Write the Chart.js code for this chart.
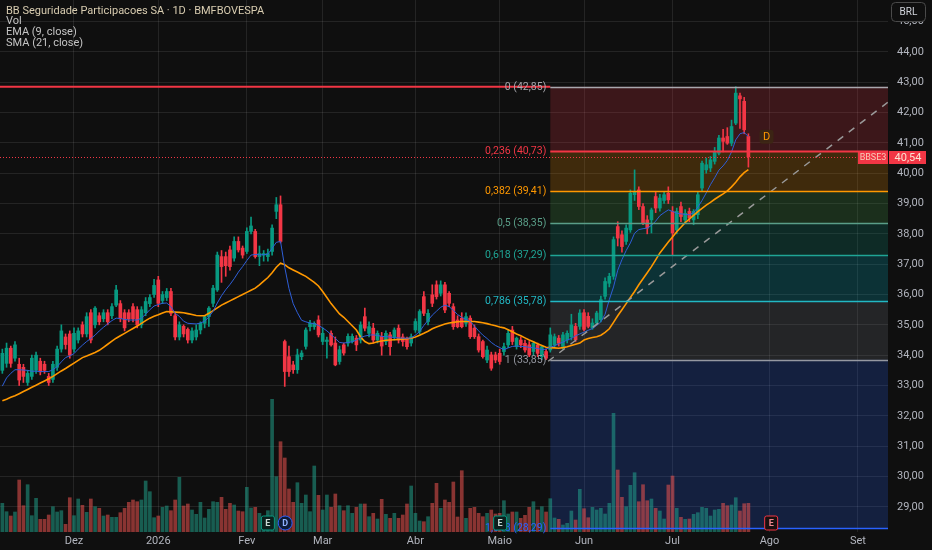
<!DOCTYPE html>
<html>
<head>
<meta charset="utf-8">
<title>BBSE3 - 1D</title>
<script src="https://cdn.jsdelivr.net/npm/chart.js@4.4.1/dist/chart.umd.min.js"></script>
<style>
  html, body { margin: 0; padding: 0; background: #0f0f0f; }
  #wrap { width: 932px; height: 550px; }
</style>
</head>
<body>
<div id="wrap"><canvas id="grafico" width="932" height="550"></canvas></div>
<script>
// pregões diários, índice 0 = meados de novembro/2025
var abertura = [
  33.50, 33.73, 34.23, 33.90, 33.70, 33.60, 33.10, 33.30, 33.50, 33.80,
  33.70, 33.30, 33.20, 33.60, 34.20, 34.60, 34.70, 34.20, 34.50, 35.00,
  34.70, 35.40, 35.00, 35.30, 35.20, 35.40, 35.30, 35.65, 35.70, 35.40,
  35.40, 35.60, 35.50, 35.00, 35.40, 35.70, 36.00, 36.48, 35.80, 35.90,
  36.10, 35.30, 34.60, 34.95, 34.85, 34.50, 34.60, 34.83, 35.05, 35.27,
  35.71, 36.15, 37.25, 37.25, 37.47, 37.20, 37.75, 37.53, 37.42, 38.08,
  38.08, 37.25, 37.30, 37.25, 37.42, 38.74, 38.96, 34.45, 33.95, 33.68,
  33.52, 33.95, 34.29, 34.94, 34.94, 35.16, 34.45, 34.45, 34.72, 34.40,
  33.79, 34.34, 34.40, 34.45, 34.56, 34.50, 35.27, 34.72, 34.89, 34.50,
  34.62, 34.45, 34.67, 34.61, 34.89, 34.60, 34.56, 34.40, 34.83, 34.78,
  35.93, 35.11, 35.99, 36.32, 36.04, 36.32, 36.04, 35.60, 35.16, 35.22,
  35.05, 35.22, 34.89, 34.61, 34.45, 33.84, 34.01, 34.01, 34.06, 34.12,
  34.34, 34.83, 34.28, 34.50, 34.39, 34.34, 34.12, 34.34, 33.95, 34.12,
  34.17, 34.34, 34.56, 34.29, 34.50, 34.61, 34.95, 34.95, 35.40, 35.28,
  34.90, 35.06, 35.17, 35.94, 36.37, 36.60, 38.24, 37.97, 37.75, 38.13,
  39.29, 39.45, 38.90, 38.46, 38.46, 39.23, 38.85, 39.10, 39.34, 38.74,
  38.13, 38.90, 38.46, 38.74, 38.46, 38.63, 39.51, 40.11, 40.17, 40.39,
  40.66, 41.16, 41.21, 40.99, 41.65, 42.55, 42.37, 41.21
];
var maxima = [
  34.20, 34.40, 34.30, 34.45, 33.90, 33.70, 33.50, 34.00, 34.10, 33.90,
  33.80, 33.40, 33.80, 34.30, 35.00, 34.70, 34.80, 34.90, 34.90, 35.10,
  35.40, 35.50, 35.60, 35.40, 35.50, 35.50, 35.70, 36.30, 35.80, 35.50,
  35.50, 35.70, 35.60, 35.60, 35.90, 36.00, 36.50, 36.60, 36.10, 36.20,
  36.20, 35.40, 35.10, 35.00, 34.90, 34.90, 35.00, 35.10, 35.30, 35.60,
  36.30, 37.40, 37.45, 37.40, 37.60, 37.90, 37.90, 37.60, 38.20, 38.55,
  38.15, 37.60, 37.45, 37.50, 38.30, 39.20, 39.25, 34.50, 34.30, 33.80,
  34.20, 34.15, 34.90, 35.15, 35.10, 35.30, 34.90, 34.60, 34.80, 34.60,
  34.30, 34.40, 34.70, 34.70, 34.65, 35.10, 35.55, 35.10, 35.05, 34.80,
  34.75, 34.80, 34.75, 34.90, 35.00, 34.70, 34.60, 34.70, 35.20, 35.50,
  36.10, 35.50, 36.32, 36.45, 36.45, 36.40, 36.10, 35.70, 35.30, 35.40,
  35.40, 35.30, 35.00, 34.70, 34.50, 34.30, 34.10, 34.10, 34.20, 34.40,
  34.85, 34.95, 34.60, 34.60, 34.50, 34.45, 34.45, 34.40, 34.30, 34.20,
  34.90, 34.70, 34.65, 34.75, 34.80, 35.35, 35.05, 35.50, 35.50, 35.40,
  35.20, 35.45, 35.95, 36.55, 36.70, 37.90, 38.40, 38.10, 38.30, 39.45,
  40.11, 39.55, 39.00, 38.60, 38.85, 39.40, 39.30, 39.40, 39.55, 38.90,
  38.85, 39.05, 38.80, 38.85, 38.80, 39.40, 40.40, 40.50, 40.55, 40.85,
  41.25, 41.45, 41.50, 41.75, 42.85, 42.64, 42.50, 41.30
];
var minima = [
  33.40, 33.60, 33.60, 33.80, 33.00, 33.10, 33.00, 33.20, 33.40, 33.35,
  33.40, 33.00, 33.10, 33.50, 34.10, 34.20, 33.90, 34.10, 34.40, 34.60,
  34.60, 34.40, 34.90, 35.00, 35.10, 35.00, 35.20, 35.60, 35.10, 34.80,
  35.10, 35.10, 34.90, 34.90, 35.30, 35.60, 35.90, 35.60, 35.70, 35.80,
  35.30, 34.50, 34.50, 34.60, 34.40, 34.40, 34.50, 34.70, 34.90, 34.95,
  35.60, 36.10, 36.40, 36.60, 36.80, 37.10, 37.40, 37.20, 37.35, 38.00,
  37.20, 36.95, 37.10, 37.10, 37.30, 38.50, 37.70, 32.97, 33.30, 33.40,
  33.40, 33.85, 34.20, 34.80, 34.85, 34.60, 34.35, 33.90, 34.30, 33.65,
  33.70, 34.00, 34.30, 34.40, 34.15, 34.40, 34.80, 34.60, 34.40, 34.40,
  34.00, 34.35, 34.00, 34.50, 34.40, 34.30, 34.20, 34.30, 34.75, 34.70,
  35.30, 35.00, 35.60, 35.85, 35.95, 35.40, 35.60, 34.85, 34.90, 34.90,
  34.95, 34.55, 34.55, 34.10, 33.90, 33.75, 33.50, 33.75, 33.70, 34.00,
  34.25, 34.35, 34.20, 34.25, 34.10, 33.95, 34.00, 33.95, 33.85, 33.85,
  34.10, 34.25, 34.30, 34.20, 34.40, 34.50, 34.45, 34.85, 34.80, 34.90,
  34.85, 35.00, 35.10, 35.85, 36.25, 36.50, 37.60, 37.40, 37.65, 38.05,
  39.10, 38.80, 38.30, 38.00, 38.03, 38.70, 38.75, 39.00, 39.00, 37.31,
  38.00, 38.40, 38.35, 38.40, 38.30, 38.50, 39.40, 40.00, 40.05, 40.30,
  40.60, 40.70, 40.95, 40.90, 41.60, 41.48, 41.30, 40.20
];
var fechamento = [
  34.06, 34.23, 33.73, 34.34, 33.18, 33.30, 33.40, 33.90, 34.00, 33.45,
  33.50, 33.10, 33.70, 34.20, 34.80, 34.35, 34.00, 34.72, 34.80, 34.70,
  35.27, 34.50, 35.55, 35.10, 35.40, 35.10, 35.60, 36.15, 35.20, 34.90,
  35.20, 35.20, 35.00, 35.50, 35.77, 35.90, 36.30, 35.71, 36.00, 36.10,
  35.38, 34.60, 35.00, 34.70, 34.50, 34.80, 34.83, 35.05, 35.27, 35.55,
  36.21, 37.30, 36.92, 36.95, 36.92, 37.75, 37.47, 37.30, 38.08, 38.26,
  37.25, 37.35, 37.35, 37.35, 38.19, 38.96, 37.75, 33.46, 33.46, 33.52,
  34.01, 34.07, 34.83, 35.05, 35.05, 34.67, 34.72, 34.50, 34.34, 33.68,
  34.18, 34.07, 34.62, 34.62, 34.34, 35.00, 34.89, 34.94, 34.50, 34.72,
  34.30, 34.72, 34.28, 34.83, 34.50, 34.45, 34.28, 34.61, 35.11, 35.44,
  35.38, 35.38, 35.71, 35.93, 36.32, 35.49, 35.71, 34.94, 34.94, 34.94,
  35.27, 34.61, 34.61, 34.17, 33.95, 34.17, 33.57, 33.84, 33.79, 34.28,
  34.72, 34.45, 34.56, 34.34, 34.17, 34.01, 34.39, 34.06, 34.28, 33.90,
  34.67, 34.61, 34.39, 34.67, 34.72, 35.00, 34.51, 35.39, 34.85, 34.95,
  35.06, 35.39, 35.83, 36.43, 36.60, 37.81, 37.86, 37.58, 38.19, 39.34,
  39.40, 38.90, 38.35, 38.19, 38.79, 38.85, 39.18, 39.29, 39.12, 38.03,
  38.74, 38.57, 38.68, 38.52, 38.74, 39.29, 40.33, 40.28, 40.44, 40.72,
  41.16, 41.05, 40.99, 41.54, 42.64, 42.45, 41.43, 40.54
];
// volume em milhões de ações
var volume = [
  2.87, 2.03, 1.60, 2.00, 5.20, 2.63, 4.73, 1.63, 3.37, 1.27,
  1.27, 1.70, 2.53, 2.00, 2.13, 0.77, 3.43, 1.63, 3.30, 2.67,
  1.97, 3.30, 2.53, 2.37, 1.60, 1.70, 1.47, 1.47, 1.93, 2.37,
  2.97, 3.20, 3.03, 3.20, 5.10, 4.03, 1.43, 1.60, 2.47, 2.60,
  2.13, 3.20, 5.47, 2.60, 2.80, 2.20, 1.77, 2.97, 1.40, 2.27,
  3.03, 2.97, 3.47, 2.27, 2.87, 2.70, 2.10, 2.03, 4.47, 2.40,
  2.47, 1.87, 1.37, 2.13, 13.27, 5.53, 9.03, 7.40, 4.30, 2.97,
  4.93, 2.87, 3.70, 2.03, 6.60, 3.67, 2.20, 3.70, 2.47, 3.80,
  2.63, 2.13, 2.63, 1.87, 2.47, 2.80, 2.80, 1.53, 1.87, 1.30,
  3.27, 1.77, 1.37, 1.87, 1.37, 1.70, 2.80, 4.60, 1.87, 1.10,
  1.03, 1.53, 2.87, 4.87, 2.37, 3.20, 2.97, 5.00, 1.50, 6.13,
  1.37, 2.37, 2.47, 1.87, 1.53, 1.87, 2.20, 1.80, 1.87, 3.13,
  1.80, 2.00, 2.00, 1.37, 1.67, 2.47, 3.03, 2.20, 2.53, 2.00,
  3.33, 1.40, 1.27, 0.70, 0.87, 2.10, 1.20, 4.27, 2.33, 1.43,
  2.47, 2.20, 2.37, 1.80, 2.87, 11.87, 6.20, 3.47, 2.53, 4.67,
  5.93, 3.03, 4.73, 3.13, 3.30, 2.37, 2.10, 1.30, 4.70, 5.60,
  2.37, 1.47, 1.27, 1.30, 1.77, 1.93, 2.47, 2.37, 1.60, 2.20,
  2.27, 2.87, 2.63, 2.70, 3.43, 2.10, 2.83, 2.87
];
var ema9 = [
  32.98, 33.25, 33.40, 33.52, 33.52, 33.51, 33.50, 33.47, 33.47, 33.46,
  33.46, 33.46, 33.52, 33.62, 33.78, 33.92, 33.98, 34.05, 34.20, 34.33,
  34.45, 34.55, 34.66, 34.80, 34.92, 35.03, 35.14, 35.22, 35.21, 35.18,
  35.16, 35.16, 35.16, 35.22, 35.35, 35.50, 35.62, 35.67, 35.71, 35.72,
  35.60, 35.38, 35.28, 35.12, 35.05, 35.04, 35.03, 35.06, 35.12, 35.26,
  35.45, 35.72, 35.96, 36.16, 36.33, 36.52, 36.74, 36.92, 37.12, 37.30,
  37.32, 37.31, 37.31, 37.33, 37.52, 37.72, 37.75, 36.90, 36.20, 35.70,
  35.40, 35.15, 35.10, 35.06, 35.04, 34.98, 34.90, 34.80, 34.68, 34.55,
  34.42, 34.40, 34.42, 34.44, 34.50, 34.58, 34.63, 34.66, 34.67, 34.65,
  34.62, 34.61, 34.60, 34.58, 34.57, 34.56, 34.56, 34.57, 34.66, 34.78,
  34.98, 35.15, 35.32, 35.45, 35.58, 35.65, 35.60, 35.48, 35.34, 35.25,
  35.18, 35.12, 34.96, 34.80, 34.66, 34.55, 34.42, 34.32, 34.25, 34.18,
  34.24, 34.29, 34.30, 34.29, 34.28, 34.26, 34.24, 34.22, 34.18, 34.20,
  34.26, 34.31, 34.38, 34.43, 34.50, 34.55, 34.64, 34.70, 34.76, 34.82,
  34.88, 34.98, 35.10, 35.35, 35.83, 36.25, 36.80, 37.15, 37.45, 37.70,
  38.02, 38.14, 38.17, 38.19, 38.28, 38.42, 38.60, 38.70, 38.79, 38.74,
  38.68, 38.66, 38.64, 38.63, 38.70, 38.88, 39.10, 39.35, 39.62, 39.85,
  40.10, 40.24, 40.42, 40.70, 41.10, 41.30, 41.34, 41.21
];
var sma21 = [
  32.50, 32.55, 32.61, 32.66, 32.73, 32.80, 32.87, 32.94, 33.01, 33.08,
  33.15, 33.22, 33.30, 33.39, 33.48, 33.56, 33.65, 33.74, 33.83, 33.92,
  33.97, 34.03, 34.09, 34.16, 34.26, 34.36, 34.46, 34.56, 34.64, 34.72,
  34.80, 34.88, 34.96, 35.05, 35.14, 35.22, 35.28, 35.33, 35.39, 35.44,
  35.43, 35.42, 35.41, 35.40, 35.37, 35.34, 35.31, 35.30, 35.30, 35.38,
  35.47, 35.56, 35.65, 35.72, 35.79, 35.86, 35.93, 36.00, 36.07, 36.14,
  36.21, 36.32, 36.44, 36.56, 36.72, 36.90, 37.03, 36.98, 36.88, 36.81,
  36.74, 36.67, 36.60, 36.50, 36.40, 36.28, 36.10, 35.90, 35.70, 35.53,
  35.36, 35.25, 35.11, 34.97, 34.83, 34.60, 34.45, 34.38, 34.40, 34.44,
  34.47, 34.49, 34.50, 34.51, 34.52, 34.53, 34.54, 34.56, 34.60, 34.66,
  34.72, 34.79, 34.87, 34.93, 34.98, 35.03, 35.06, 35.08, 35.10, 35.11,
  35.11, 35.11, 35.11, 35.09, 35.07, 35.04, 35.00, 34.97, 34.93, 34.90,
  34.84, 34.77, 34.70, 34.64, 34.57, 34.50, 34.44, 34.38, 34.32, 34.26,
  34.25, 34.24, 34.23, 34.25, 34.28, 34.32, 34.36, 34.40, 34.50, 34.55,
  34.58, 34.61, 34.66, 34.75, 34.87, 35.08, 35.30, 35.50, 35.70, 35.90,
  36.10, 36.32, 36.52, 36.72, 36.92, 37.14, 37.37, 37.55, 37.73, 37.90,
  38.07, 38.22, 38.37, 38.49, 38.61, 38.73, 38.84, 38.95, 39.04, 39.14,
  39.23, 39.32, 39.42, 39.55, 39.70, 39.88, 40.02, 40.12
];

// eixo do tempo: primeiro pregão de cada mês
var mesesIdx = [17, 37, 58, 76, 98, 118, 138, 159, 182, 203];
var mesesTxt = ['Dez', '2026', 'Fev', 'Mar', 'Abr', 'Maio', 'Jun', 'Jul', 'Ago', 'Set'];
var precoTicks = [29, 30, 31, 32, 33, 34, 35, 36, 37, 38, 39, 40, 41, 42, 43, 44, 45];

// retração de Fibonacci (fundo de maio -> topo de julho)
var fibNiveis = [0, 0.236, 0.382, 0.5, 0.618, 0.786, 1, 1.618];
var fibPrecos = [42.85, 40.73, 39.41, 38.35, 37.29, 35.78, 33.85, 28.29];
var fibInicio = 130;
var fibLinhas = ['#a8a8ae', '#f23645', '#ff9800', '#5a9e88', '#1fa595', '#22b8c4', '#9598a1', '#2962ff'];
var fibFundos = ['#787b86', '#f23645', '#ff9800', '#4caf50', '#089981', '#00bcd4', '#787b86', '#2962ff'];

var tendencia = [[129.5, 33.80], [210.2, 42.35]];
var precoAtual = 40.54;
var resistencia = 42.85;
var marcaD = [181.3, 41.2];
var eventos = [[63, 'E'], [67.1, 'D'], [118.1, 'E'], [182.4, 'F']];

var VERDE = '#089981';
var VERMELHO = '#f23645';

function fmt(v) {
    return v.toFixed(2).replace('.', ',');
}

function comAlfa(hex, a) {
    var r = parseInt(hex.substr(1, 2), 16);
    var g = parseInt(hex.substr(3, 2), 16);
    var b = parseInt(hex.substr(5, 2), 16);
    return 'rgba(' + r + ',' + g + ',' + b + ',' + a + ')';
}

var idx = fechamento.map(function(c, i) { return i; });
var alta = fechamento.map(function(c, i) { return c >= abertura[i]; });
var corVela = alta.map(function(a) { return a ? VERDE : VERMELHO; });
var corVol = alta.map(function(a) { return a ? 'rgba(34,171,148,0.5)' : 'rgba(239,83,80,0.55)'; });

function caixa(ctx, x, y, w, h, r) {
    ctx.beginPath();
    ctx.moveTo(x + r, y);
    ctx.arcTo(x + w, y, x + w, y + h, r);
    ctx.arcTo(x + w, y + h, x, y + h, r);
    ctx.arcTo(x, y + h, x, y, r);
    ctx.arcTo(x, y, x + w, y, r);
    ctx.closePath();
}

var desenhos = {
    id: 'desenhos',
    beforeDatasetsDraw: function(chart) {
        var ctx = chart.ctx, sx = chart.scales.x, sy = chart.scales.y, a = chart.chartArea;
        var x0 = sx.getPixelForValue(fibInicio);
        ctx.save();
        for (var k = 1; k < fibPrecos.length; k++) {
            var y1 = sy.getPixelForValue(fibPrecos[k - 1]);
            var y2 = sy.getPixelForValue(fibPrecos[k]);
            ctx.fillStyle = comAlfa(fibFundos[k], 0.2);
            ctx.fillRect(x0, y1, a.right - x0, y2 - y1);
        }
        ctx.restore();
    },
    afterDatasetsDraw: function(chart) {
        var ctx = chart.ctx, sx = chart.scales.x, sy = chart.scales.y, a = chart.chartArea;
        var x0 = sx.getPixelForValue(fibInicio);
        ctx.save();

        // linha de resistência
        var yr = sy.getPixelForValue(resistencia);
        ctx.strokeStyle = VERMELHO;
        ctx.lineWidth = 1.8;
        ctx.beginPath();
        ctx.moveTo(a.left, yr);
        ctx.lineTo(x0, yr);
        ctx.stroke();

        // níveis de fibonacci
        ctx.font = '10.5px Roboto, sans-serif';
        ctx.textAlign = 'right';
        ctx.textBaseline = 'middle';
        for (var k = 0; k < fibPrecos.length; k++) {
            var yf = Math.round(sy.getPixelForValue(fibPrecos[k])) + 0.5;
            ctx.strokeStyle = fibLinhas[k];
            ctx.lineWidth = k === 1 ? 2 : 1.5;
            ctx.beginPath();
            ctx.moveTo(x0, yf);
            ctx.lineTo(a.right, yf);
            ctx.stroke();
            ctx.fillStyle = fibLinhas[k];
            ctx.fillText(String(fibNiveis[k]).replace('.', ',') + ' (' + fmt(fibPrecos[k]) + ')', x0 - 4, yf);
        }

        // preço atual
        var yp = Math.round(sy.getPixelForValue(precoAtual)) + 0.5;
        ctx.strokeStyle = VERMELHO;
        ctx.lineWidth = 1;
        ctx.setLineDash([1, 2]);
        ctx.beginPath();
        ctx.moveTo(a.left, yp);
        ctx.lineTo(a.right, yp);
        ctx.stroke();
        ctx.setLineDash([]);
        ctx.fillStyle = VERMELHO;
        ctx.fillRect(a.right - 30, yp - 6.5, 30, 13);
        ctx.fillRect(a.right + 1, yp - 6.5, 37, 13);
        ctx.textAlign = 'center';
        ctx.font = '9px Roboto, sans-serif';
        ctx.fillStyle = '#f6cdb8';
        ctx.fillText('BBSE3', a.right - 15, yp + 0.5);
        ctx.font = '11px Roboto, sans-serif';
        ctx.fillStyle = '#fbe2d2';
        ctx.fillText(fmt(precoAtual), a.right + 20, yp + 0.5);

        // rótulo "D" da onda
        var xd = sx.getPixelForValue(marcaD[0]), yd = sy.getPixelForValue(marcaD[1]);
        caixa(ctx, xd - 7, yd - 7, 14, 14, 3);
        ctx.fillStyle = 'rgba(60,40,20,0.85)';
        ctx.fill();
        ctx.fillStyle = '#ff9800';
        ctx.font = '11px Roboto, sans-serif';
        ctx.fillText('D', xd, yd);

        // eventos (resultados / dividendos)
        var ye = a.bottom - 9;
        eventos.forEach(function(ev) {
            var xe = sx.getPixelForValue(ev[0]);
            ctx.lineWidth = 1;
            if (ev[1] === 'D') {
                ctx.beginPath();
                ctx.arc(xe, ye, 7, 0, Math.PI * 2);
                ctx.fillStyle = '#0d1a38';
                ctx.fill();
                ctx.strokeStyle = '#2962ff';
                ctx.stroke();
                ctx.fillStyle = '#8fb0ff';
            } else {
                caixa(ctx, xe - 6.5, ye - 7, 13, 14, 2);
                ctx.fillStyle = ev[1] === 'F' ? '#1a1010' : '#0b1f1c';
                ctx.fill();
                ctx.strokeStyle = ev[1] === 'F' ? VERMELHO : VERDE;
                ctx.stroke();
                ctx.fillStyle = ev[1] === 'F' ? '#f08890' : '#c8d8d4';
            }
            ctx.font = 'bold 9px Roboto, sans-serif';
            ctx.fillText(ev[1] === 'D' ? 'D' : 'E', xe, ye + 0.5);
        });

        // legenda
        ctx.textAlign = 'left';
        ctx.font = '11px Roboto, sans-serif';
        ctx.fillStyle = '#d8ccb0';
        ctx.fillText('BB Seguridade Participacoes SA \u00b7 1D \u00b7 BMFBOVESPA', 6, 11);
        ctx.fillStyle = '#c4c4c4';
        ctx.fillText('Vol', 6, 21.5);
        ctx.fillText('EMA (9, close)', 6, 32.5);
        ctx.fillText('SMA (21, close)', 6, 43.5);

        // botão da moeda
        caixa(ctx, a.right + 3.5, 2.5, 34, 19, 4);
        ctx.fillStyle = '#0f0f0f';
        ctx.fill();
        ctx.strokeStyle = '#4a4a4a';
        ctx.stroke();
        ctx.textAlign = 'center';
        ctx.fillStyle = '#d1d4dc';
        ctx.font = '10px Roboto, sans-serif';
        ctx.fillText('BRL', a.right + 20.5, 12.5);

        ctx.restore();
    }
};

var grade = 'rgba(255,255,255,0.09)';

var chart = new Chart(document.getElementById('grafico'), {
    type: 'bar',
    data: {
        datasets: [{
            type: 'line',
            label: 'EMA (9, close)',
            data: idx.map(function(i) { return { x: i, y: ema9[i] }; }),
            borderColor: '#2f5fd8',
            borderWidth: 1,
            pointRadius: 0,
            yAxisID: 'y',
            order: 1
        }, {
            type: 'line',
            label: 'SMA (21, close)',
            data: idx.map(function(i) { return { x: i, y: sma21[i] }; }),
            borderColor: '#ff9800',
            borderWidth: 1.6,
            pointRadius: 0,
            yAxisID: 'y',
            order: 2
        }, {
            label: 'corpo',
            data: idx.map(function(i) {
                return { x: i, y: [Math.min(abertura[i], fechamento[i]), Math.max(abertura[i], fechamento[i])] };
            }),
            backgroundColor: corVela,
            barThickness: 3,
            minBarLength: 1,
            grouped: false,
            yAxisID: 'y',
            order: 3
        }, {
            label: 'pavio',
            data: idx.map(function(i) { return { x: i, y: [minima[i], maxima[i]] }; }),
            backgroundColor: corVela,
            barThickness: 1,
            grouped: false,
            yAxisID: 'y',
            order: 4
        }, {
            label: 'Vol',
            data: idx.map(function(i) { return { x: i, y: volume[i] }; }),
            backgroundColor: corVol,
            barThickness: 3,
            grouped: false,
            yAxisID: 'yv',
            order: 5
        }, {
            type: 'line',
            label: 'tendencia',
            data: tendencia.map(function(p) { return { x: p[0], y: p[1] }; }),
            borderColor: '#9a9a9a',
            borderWidth: 1.5,
            borderDash: [7, 7],
            pointRadius: 0,
            yAxisID: 'y',
            order: 0
        }]
    },
    options: {
        responsive: false,
        animation: false,
        layout: { padding: 0 },
        plugins: {
            legend: { display: false },
            tooltip: { enabled: false }
        },
        scales: {
            x: {
                type: 'linear',
                offset: false,
                min: -0.555,
                max: 210.12,
                afterBuildTicks: function(s) {
                    s.ticks = mesesIdx.map(function(v) { return { value: v }; });
                },
                afterFit: function(s) {
                    s.height = 18;
                    s.paddingLeft = 0;
                    s.paddingRight = 0;
                },
                grid: { color: grade, drawTicks: false, offset: false },
                border: { display: false },
                ticks: {
                    color: '#b2b5be',
                    font: { family: 'Roboto', size: 11 },
                    padding: 3,
                    autoSkip: false,
                    maxRotation: 0,
                    callback: function(v) {
                        var k = mesesIdx.indexOf(v);
                        return k >= 0 ? mesesTxt[k] : '';
                    }
                }
            },
            y: {
                type: 'linear',
                position: 'right',
                min: 28.17,
                max: 45.71,
                afterBuildTicks: function(s) {
                    s.ticks = precoTicks.map(function(v) { return { value: v }; });
                },
                afterFit: function(s) {
                    s.width = 44;
                    s.paddingTop = 0;
                    s.paddingBottom = 0;
                },
                grid: { color: grade, drawTicks: false },
                border: { display: false },
                ticks: {
                    color: '#b2b5be',
                    font: { family: 'Roboto', size: 11 },
                    padding: 9,
                    callback: function(v) { return fmt(v); }
                }
            },
            yv: {
                type: 'linear',
                display: false,
                min: 0,
                max: 53.2
            }
        }
    },
    plugins: [desenhos]
});
</script>
</body>
</html>
